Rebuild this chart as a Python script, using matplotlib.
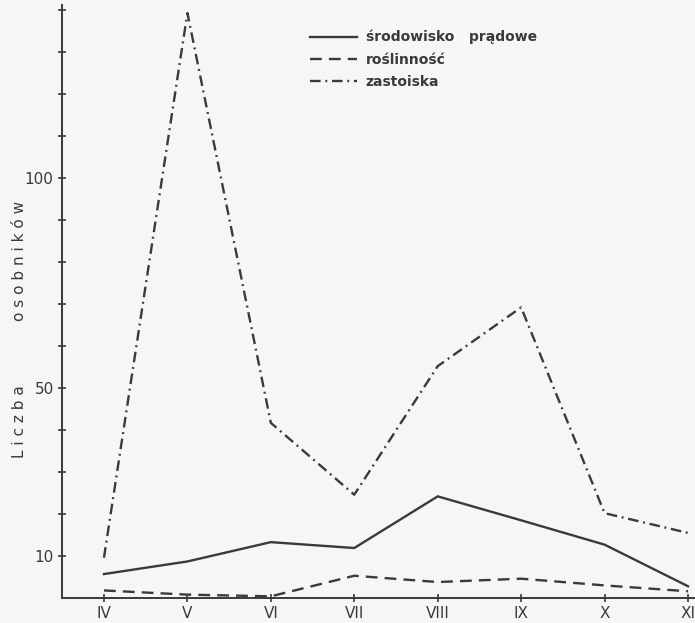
import matplotlib
matplotlib.use("Agg")
import matplotlib.pyplot as plt
from matplotlib.ticker import FixedLocator, NullFormatter

months = ["IV", "V", "VI", "VII", "VIII", "IX", "X", "XI"]
srodowisko_pradowe = [5.7, 8.7, 13.3, 11.9, 24.2, 18.5, 12.7, 2.8]
roslinnosc = [1.8, 0.8, 0.4, 5.3, 3.8, 4.6, 3.0, 1.6]
zastoiska = [9.6, 139.3, 41.7, 24.6, 55.2, 69.2, 20.2, 15.5]
series_labels = ["środowisko   prądowe", "roślinność", "zastoiska"]
y_major = [10, 50, 100]
y_minor = [20, 30, 40, 60, 70, 80, 90, 110, 120, 130, 140]

ink = "#3a3a3a"
bg = "#f6f6f4"

fig = plt.figure(figsize=(6.95, 6.23), dpi=100, facecolor=bg)
ax = fig.add_axes([62 / 695, 25 / 623, 633 / 695, 593 / 623], facecolor=bg)

x = list(range(len(months)))
lw = 1.7
l1, = ax.plot(x, srodowisko_pradowe, color=ink, lw=lw, solid_joinstyle="miter")
l2, = ax.plot(x, roslinnosc, color=ink, lw=lw, linestyle=(0, (5.0, 3.0)))
l3, = ax.plot(x, zastoiska, color=ink, lw=lw, linestyle=(0, (4.5, 2.0, 0.8, 2.0)))

ax.set_xlim(-0.503, 7.084)
ax.set_ylim(0, 141.2)

for s in ["top", "right"]:
    ax.spines[s].set_visible(False)
for s in ["left", "bottom"]:
    ax.spines[s].set_color(ink)
    ax.spines[s].set_linewidth(1.4)

ax.set_xticks(x)
ax.set_xticklabels(months)
ax.yaxis.set_major_locator(FixedLocator(y_major))
ax.yaxis.set_minor_locator(FixedLocator(y_minor))
ax.yaxis.set_minor_formatter(NullFormatter())
ax.tick_params(axis="both", which="both", direction="inout", length=6,
               width=1.2, color=ink, labelcolor=ink, labelsize=11, pad=3)

fig.text(20 / 695, 1 - 422 / 623, "L i c z b a", rotation=90, ha="center",
         va="center", fontsize=11, color=ink)
fig.text(20 / 695, 1 - 261 / 623, "o s o b n i k ó w", rotation=90, ha="center",
         va="center", fontsize=11, color=ink)

leg = ax.legend([l1, l2, l3], series_labels, loc="upper left",
                bbox_to_anchor=(310 / 695, 1 - 30 / 623),
                bbox_transform=fig.transFigure, frameon=False,
                borderpad=0, borderaxespad=0, handlelength=3.4,
                handletextpad=0.6, labelspacing=0.58,
                prop={"size": 10, "weight": "bold"})
for t in leg.get_texts():
    t.set_color(ink)

fig.savefig("out.png", dpi=100, facecolor=bg)
